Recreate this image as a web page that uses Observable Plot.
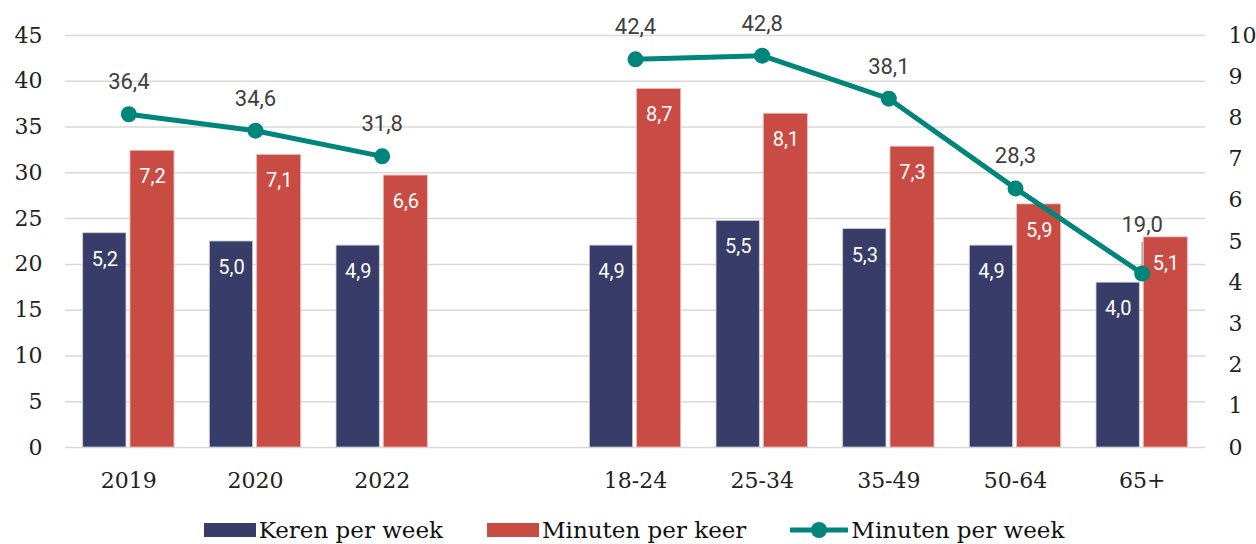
<!DOCTYPE html>
<html>
<head>
<meta charset="utf-8">
<script src="https://cdn.jsdelivr.net/npm/d3@7"></script>
<script src="https://cdn.jsdelivr.net/npm/@observablehq/plot@0.6"></script>
<style>
  html, body { margin: 0; padding: 0; background: #fff; }
  #wrap { position: relative; width: 1256px; height: 544px; overflow: hidden; }
  #legend {
    position: absolute; top: 515px; left: 0; width: 1256px; height: 30px;
    display: flex; justify-content: center; align-items: center;
    padding-left: 12px; box-sizing: border-box;
    font-family: "DejaVu Serif", serif; font-size: 23px; color: #111; line-height: 30px;
  }
  .item { display: flex; align-items: center; margin: 0 22px; }
  .sw { width: 52px; height: 14px; margin-right: 3px; }
</style>
</head>
<body>
<div id="wrap">
  <div id="chart"></div>
  <div id="legend"></div>
</div>
<script>
// ---- data ----
const jaren = ["2019", "2020", "2022"];
const leeftijden = ["18-24", "25-34", "35-49", "50-64", "65+"];
const categories = [...jaren, ...leeftijden];
const kerenPerWeek = [5.2, 5.0, 4.9, 4.9, 5.5, 5.3, 4.9, 4.0];
const minutenPerKeer = [7.2, 7.1, 6.6, 8.7, 8.1, 7.3, 5.9, 5.1];
const minutenPerWeek = [36.4, 34.6, 31.8, 42.4, 42.8, 38.1, 28.3, 19.0];
const leftTicks = [0, 5, 10, 15, 20, 25, 30, 35, 40, 45];
const rightTicks = [0, 1, 2, 3, 4, 5, 6, 7, 8, 9, 10];
const seriesNames = ["Keren per week", "Minuten per keer", "Minuten per week"];

// ---- styling ----
const NAVY = "#383c68", RED = "#c94c44", TEAL = "#00857a";
const RATIO = 45 / 10; // right axis (0-10) shares the frame with the left axis (0-45)
const GAP = " ";
const fmt = v => v.toFixed(1).replace(".", ",");

const rows = categories.map((c, i) => ({
  cat: c,
  groep: jaren.includes(c) ? "jaar" : "leeftijd",
  keren: kerenPerWeek[i],
  keer: minutenPerKeer[i],
  week: minutenPerWeek[i]
}));
const lastCat = "65+";

const chart = Plot.plot({
  width: 1256,
  height: 505,
  marginTop: 35,
  marginBottom: 58,
  marginLeft: 65,
  marginRight: 51,
  style: { fontFamily: "DejaVu Serif", fontSize: "22px", color: "#222", background: "white" },
  x: { type: "band", domain: [...jaren, GAP, ...leeftijden], padding: 0, round: false, axis: null },
  y: { domain: [0, 45], axis: null },
  marks: [
    Plot.gridY(leftTicks, { stroke: "#d9d9d9", strokeOpacity: 1, strokeWidth: 1.5 }),
    Plot.axisY(leftTicks, { anchor: "left", tickSize: 0, tickPadding: 23, label: null }),
    Plot.axisY(rightTicks.map(t => t * RATIO), {
      anchor: "right", tickSize: 0, tickPadding: 23, label: null,
      tickFormat: d => String(Math.round(d / RATIO))
    }),
    Plot.axisX(categories, { anchor: "bottom", tickSize: 0, tickPadding: 25, label: null }),
    Plot.barY(rows, {
      x: "cat", y: d => d.keren * RATIO, fill: NAVY,
      stroke: "#c9c9d8", strokeWidth: 0.8, insetLeft: 17.7, insetRight: 65.7
    }),
    Plot.barY(rows, {
      x: "cat", y: d => d.keer * RATIO, fill: RED,
      stroke: "#eab8b4", strokeWidth: 0.8, insetLeft: 65, insetRight: 17.7
    }),
    Plot.text(rows, {
      x: "cat", y: d => d.keren * RATIO, text: d => fmt(d.keren),
      dx: -24, dy: 26, fill: "white", fontFamily: "Roboto", fontSize: 20
    }),
    Plot.text(rows, {
      x: "cat", y: d => d.keer * RATIO, text: d => fmt(d.keer),
      dx: 23.7, dy: 26, fill: "white", fontFamily: "Roboto", fontSize: 20
    }),
    Plot.line(rows, { x: "cat", y: "week", z: "groep", stroke: TEAL, strokeWidth: 5 }),
    Plot.ruleX(rows.filter(d => d.cat === lastCat), {
      x: "cat", y1: "week", y2: "week", stroke: "#a6a6a6", strokeWidth: 1.5,
      insetTop: -31, insetBottom: 0
    }),
    Plot.dot(rows, { x: "cat", y: "week", r: 8, fill: TEAL, stroke: "none" }),
    Plot.text(rows.filter(d => d.cat !== lastCat), {
      x: "cat", y: "week", text: d => fmt(d.week),
      dy: -32, fill: "#404040", fontFamily: "Roboto", fontSize: 22
    }),
    Plot.text(rows.filter(d => d.cat === lastCat), {
      x: "cat", y: "week", text: d => fmt(d.week),
      dy: -49, fill: "#404040", fontFamily: "Roboto", fontSize: 22
    })
  ]
});
document.getElementById("chart").appendChild(chart);

// ---- legend ----
const legend = d3.select("#legend");
const colors = [NAVY, RED, TEAL];
seriesNames.forEach((name, i) => {
  const item = legend.append("div").attr("class", "item");
  if (i < 2) {
    item.append("div").attr("class", "sw").style("background", colors[i]);
  } else {
    const s = item.append("svg").attr("width", 58).attr("height", 20).style("margin-right", "3px");
    s.append("line").attr("x1", 1).attr("x2", 57).attr("y1", 10).attr("y2", 10)
      .attr("stroke", colors[i]).attr("stroke-width", 5).attr("stroke-linecap", "round");
    s.append("circle").attr("cx", 29).attr("cy", 10).attr("r", 8).attr("fill", colors[i]);
  }
  item.append("span").text(name);
});
</script>
</body>
</html>
